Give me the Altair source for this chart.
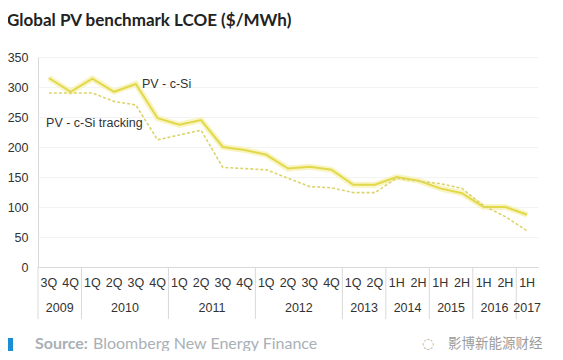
import altair as alt
import pandas as pd

# ---- data ----
quarters = ["3Q", "4Q", "1Q", "2Q", "3Q", "4Q", "1Q", "2Q", "3Q", "4Q",
            "1Q", "2Q", "3Q", "4Q", "1Q", "2Q", "1H", "2H", "1H", "2H",
            "1H", "2H", "1H"]
years = ["2009", "2010", "2011", "2012", "2013", "2014", "2015", "2016", "2017"]
year_counts = [2, 4, 4, 4, 2, 2, 2, 2, 1]
pv_csi = [315, 292, 314, 292, 305, 248, 237, 245, 200, 195,
          187, 164, 167, 162, 137, 137, 150, 144, 131, 123,
          100, 100, 87]
pv_tracking = [290, 290, 290, 276, 270, 212, 220, 228, 166, 164,
               162, 148, 134, 132, 124, 124, 148, 143, 139, 131,
               102, 84, 60]
y_ticks = [0, 50, 100, 150, 200, 250, 300, 350]

idx = list(range(len(quarters)))
df = pd.DataFrame({"i": idx, "q": quarters, "csi": pv_csi, "trk": pv_tracking})

starts = []
s = 0
for c in year_counts:
    starts.append(s)
    s += c
ydf = pd.DataFrame({
    "year": years,
    "center": [st + (c - 1) / 2 for st, c in zip(starts, year_counts)],
    "bound": [st - 0.5 for st in starts],
})

W, H = 500, 210
FONT = "Liberation Sans"
xs = alt.Scale(domain=[-0.5, len(quarters) - 0.5], nice=False, zero=False)
ys = alt.Scale(domain=[0, 350], nice=False)
x_axis = alt.Axis(labels=False, ticks=False, grid=False, domainColor="#d9d9d9", title=None)
y_axis = alt.Axis(values=y_ticks, title=None, ticks=False, labelOverlap=False,
                  labelPadding=10, labelFontSize=12.5, labelColor="#333333",
                  labelFont=FONT, domainColor="#d9d9d9", gridColor="#f3f3f3")


def X(field):
    return alt.X(field, scale=xs, axis=x_axis)


def Y(field):
    return alt.Y(field, scale=ys, axis=y_axis)


base = alt.Chart(df)

glow = base.mark_line(color="#f6f1b4", strokeWidth=6, opacity=0.8).encode(
    x=X("i:Q"), y=Y("csi:Q"))
core = base.mark_line(color="#e2d84c", strokeWidth=2).encode(x=X("i:Q"), y=Y("csi:Q"))
dashed = base.mark_line(color="#dcd46a", strokeWidth=1.6, strokeDash=[3, 2]).encode(
    x=X("i:Q"), y=Y("trk:Q"))

qlab = base.mark_text(font=FONT, fontSize=12.5, color="#333333", baseline="middle").encode(
    x=X("i:Q"), y=alt.value(226), text="q:N")

ychart = alt.Chart(ydf)
ylab = ychart.mark_text(font=FONT, fontSize=12.5, color="#333333", baseline="middle").encode(
    x=X("center:Q"), y=alt.value(251), text="year:N")
seps = ychart.mark_rule(color="#d9d9d9", strokeWidth=1).encode(
    x=X("bound:Q"), y=alt.value(210), y2=alt.value(262))

ann = pd.DataFrame({"t": ["PV - c-Si", "PV - c-Si tracking"],
                    "i": [4.28, -0.13], "v": [305, 240]})
anns = alt.Chart(ann).mark_text(font=FONT, fontSize=12.5, color="#333333",
                                align="left", baseline="middle").encode(
    x=X("i:Q"), y=Y("v:Q"), text="t:N")

one = pd.DataFrame({"a": [0]})
title = alt.Chart(one).mark_text(text="Global PV benchmark LCOE ($/MWh)", font="Lato",
                                 fontWeight="bold", fontSize=17, color="#222222",
                                 align="left", baseline="alphabetic").encode(
    x=alt.value(-31), y=alt.value(-31))
square = alt.Chart(one).mark_rect(color="#1a8fd6").encode(
    x=alt.value(-31), x2=alt.value(-25), y=alt.value(281), y2=alt.value(295))
src1 = alt.Chart(one).mark_text(text="Source:", font="Lato", fontWeight="bold", fontSize=16,
                                color="#a9b0b6", align="left", baseline="alphabetic").encode(
    x=alt.value(-3), y=alt.value(292))
src2 = alt.Chart(one).mark_text(text="Bloomberg New Energy Finance", font="Lato", fontSize=16,
                                color="#a9b0b6", align="left", baseline="alphabetic").encode(
    x=alt.value(55), y=alt.value(292))
wm = alt.Chart(one).mark_text(text="影博新能源财经", font="Noto Sans CJK SC", fontSize=13.5,
                              color="#9a9a9a", align="left", baseline="middle").encode(
    x=alt.value(410), y=alt.value(287))
wmi = alt.Chart(one).mark_text(text="◌", font="DejaVu Sans", fontSize=14,
                               color="#b0b0b0", align="left", baseline="middle").encode(
    x=alt.value(384), y=alt.value(287))

chart = alt.layer(glow, core, dashed, seps, qlab, ylab, anns, title, square, src1, src2, wm, wmi).properties(
    width=W, height=H,
    background="white",
    autosize=alt.AutoSizeParams(type="none"),
    padding={"left": 30, "top": 49, "right": 16, "bottom": 84},
).configure_view(strokeWidth=0)

chart.save("out.html", embed_options={"renderer": "svg", "actions": False})
